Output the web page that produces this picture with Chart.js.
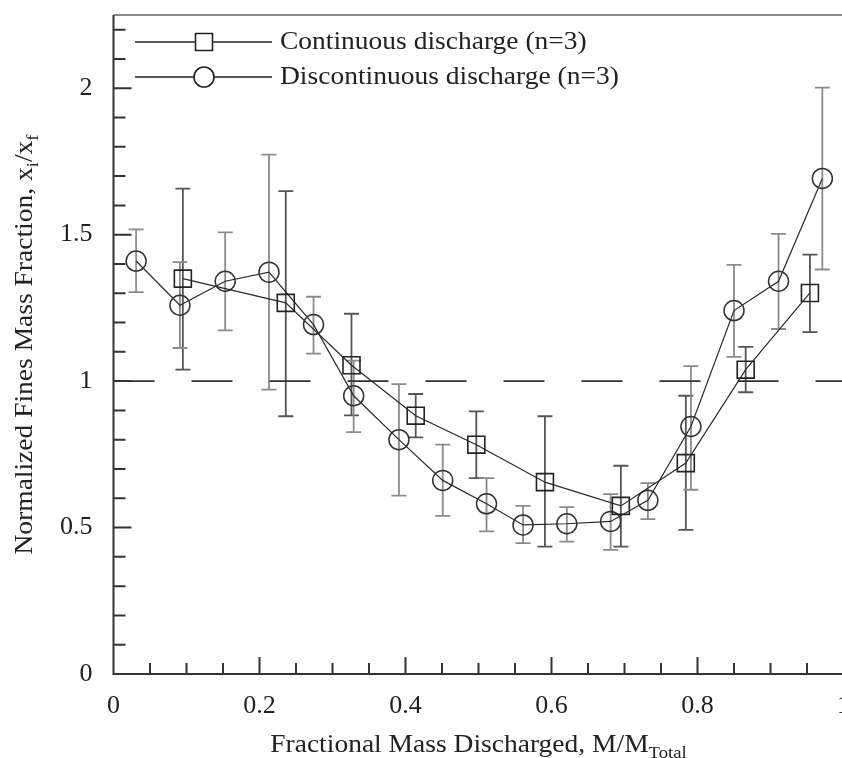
<!DOCTYPE html>
<html>
<head>
<meta charset="utf-8">
<script src="https://cdn.jsdelivr.net/npm/chart.js@4"></script>
<style>
  html, body { margin: 0; padding: 0; background: #fff; overflow: hidden; }
  #wrap { width: 870px; height: 758px; }
</style>
</head>
<body>
<div id="wrap"><canvas id="finesChart" width="870" height="758"></canvas></div>
<script>
// continuous discharge (squares)
const contX  = [0.095, 0.236, 0.326, 0.414, 0.497, 0.591, 0.695, 0.784, 0.866, 0.954];
const contY  = [1.35, 1.267, 1.054, 0.882, 0.783, 0.655, 0.574, 0.72, 1.039, 1.301];
const contLo = [1.039, 0.88, 0.883, 0.808, 0.669, 0.435, 0.435, 0.492, 0.962, 1.167];
const contHi = [1.657, 1.649, 1.23, 0.956, 0.897, 0.88, 0.711, 0.95, 1.117, 1.432];

// discontinuous discharge (circles)
const discX  = [0.031, 0.091, 0.153, 0.213, 0.274, 0.329, 0.391, 0.451, 0.511, 0.561, 0.621, 0.681, 0.732, 0.791, 0.85, 0.911, 0.971];
const discY  = [1.41, 1.259, 1.341, 1.372, 1.193, 0.95, 0.8, 0.661, 0.581, 0.509, 0.513, 0.521, 0.593, 0.845, 1.241, 1.341, 1.692];
const discLo = [1.304, 1.113, 1.173, 0.971, 1.094, 0.826, 0.609, 0.54, 0.487, 0.447, 0.452, 0.424, 0.529, 0.629, 1.083, 1.178, 1.381];
const discHi = [1.518, 1.406, 1.508, 1.773, 1.288, 1.07, 0.99, 0.783, 0.669, 0.574, 0.57, 0.614, 0.652, 1.051, 1.397, 1.503, 2.002];

// dashed reference line x_i/x_f = 1
const refX = [0, 1];
const refY = [1, 1];

// axis ticks
const xMajor = [0, 0.2, 0.4, 0.6, 0.8, 1];
const xMinor = [0.05, 0.1, 0.15, 0.25, 0.3, 0.35, 0.45, 0.5, 0.55, 0.65, 0.7, 0.75, 0.85, 0.9, 0.95];
const yMajor = [0, 0.5, 1, 1.5, 2];
const yMinor = [0.1, 0.2, 0.3, 0.4, 0.6, 0.7, 0.8, 0.9, 1.1, 1.2, 1.3, 1.4, 1.6, 1.7, 1.8, 1.9, 2.1, 2.2];

const SERIF = '"Liberation Serif", "DejaVu Serif", serif';
const INK = '#222';
const STRETCH = 1.1; // the source figure's lettering is a bit wider than Times

const toPoints = (xs, ys) => xs.map((x, i) => ({ x: x, y: ys[i] }));

// frame and inward tick marks
const framePlugin = {
  id: 'frame',
  afterDatasetsDraw(chart) {
    const { ctx, chartArea: a, scales: { x, y } } = chart;
    ctx.save();
    ctx.strokeStyle = '#666';
    ctx.lineWidth = 1.5;
    ctx.beginPath();
    ctx.moveTo(a.left, a.top);
    ctx.lineTo(a.right, a.top);
    ctx.lineTo(a.right, a.bottom);
    ctx.stroke();

    ctx.strokeStyle = '#333';
    ctx.lineWidth = 2;
    ctx.beginPath();
    ctx.moveTo(a.left, a.top);
    ctx.lineTo(a.left, a.bottom);
    ctx.lineTo(a.right, a.bottom);
    xMajor.forEach(v => { const p = x.getPixelForValue(v); ctx.moveTo(p, a.bottom); ctx.lineTo(p, a.bottom - 17); });
    xMinor.forEach(v => { const p = x.getPixelForValue(v); ctx.moveTo(p, a.bottom); ctx.lineTo(p, a.bottom - 11); });
    yMajor.forEach(v => { const p = y.getPixelForValue(v); ctx.moveTo(a.left, p); ctx.lineTo(a.left + 18, p); });
    yMinor.forEach(v => { const p = y.getPixelForValue(v); ctx.moveTo(a.left, p); ctx.lineTo(a.left + 12, p); });
    ctx.stroke();
    ctx.restore();
  }
};

// vertical error bars with caps
const errorBarPlugin = {
  id: 'errorBars',
  beforeDatasetsDraw(chart) {
    const { ctx, scales: { x, y } } = chart;
    chart.data.datasets.forEach(ds => {
      if (!ds.errLo) return;
      ctx.save();
      ctx.strokeStyle = ds.errColor;
      ctx.lineWidth = 1.8;
      ds.data.forEach((p, i) => {
        const px = x.getPixelForValue(p.x);
        const top = y.getPixelForValue(ds.errHi[i]);
        const bot = y.getPixelForValue(ds.errLo[i]);
        ctx.beginPath();
        ctx.moveTo(px, top); ctx.lineTo(px, bot);
        ctx.moveTo(px - 7.5, top); ctx.lineTo(px + 7.5, top);
        ctx.moveTo(px - 7.5, bot); ctx.lineTo(px + 7.5, bot);
        ctx.stroke();
      });
      ctx.restore();
    });
  }
};

// legend inside the plot, line through marker
const legendPlugin = {
  id: 'insideLegend',
  afterDraw(chart) {
    const { ctx, chartArea: a } = chart;
    chart.data.datasets.slice(0, 2).forEach((ds, i) => {
      const cy = a.top + 27 + i * 35;
      const mx = a.left + 90.5;
      ctx.save();
      ctx.strokeStyle = '#222';
      ctx.lineWidth = 1.3;
      ctx.beginPath();
      ctx.moveTo(a.left + 21.5, cy);
      ctx.lineTo(a.left + 158.5, cy);
      ctx.stroke();
      ctx.lineWidth = 1.6;
      ctx.fillStyle = '#fff';
      ctx.beginPath();
      if (ds.pointStyle === 'rect') {
        ctx.rect(mx - 8.5, cy - 8.5, 17, 17);
      } else {
        ctx.arc(mx, cy, 10, 0, Math.PI * 2);
      }
      ctx.fill();
      ctx.stroke();
      ctx.fillStyle = INK;
      ctx.font = '25px ' + SERIF;
      ctx.textBaseline = 'alphabetic';
      ctx.textAlign = 'left';
      ctx.translate(a.left + 166.5, cy + 7);
      ctx.scale(STRETCH, 1);
      ctx.fillText(ds.label, 0, 0);
      ctx.restore();
    });
  }
};

// axis titles with subscripts, centred on cx
function drawParts(ctx, parts, cx) {
  let total = 0;
  parts.forEach(p => { ctx.font = p[1] + 'px ' + SERIF; total += ctx.measureText(p[0]).width; });
  ctx.translate(cx - total * STRETCH / 2, 0);
  ctx.scale(STRETCH, 1);
  let px = 0;
  parts.forEach(p => {
    ctx.font = p[1] + 'px ' + SERIF;
    ctx.fillText(p[0], px, p[2]);
    px += ctx.measureText(p[0]).width;
  });
}

const titlePlugin = {
  id: 'axisTitles',
  afterDraw(chart) {
    const { ctx, chartArea: a } = chart;
    ctx.save();
    ctx.fillStyle = INK;
    ctx.textBaseline = 'alphabetic';
    ctx.textAlign = 'left';
    ctx.translate(0, 752);
    drawParts(ctx, [['Fractional Mass Discharged, M/M', 25, 0], ['Total', 17, 6]], (a.left + a.right) / 2);
    ctx.restore();

    ctx.save();
    ctx.fillStyle = INK;
    ctx.textBaseline = 'alphabetic';
    ctx.textAlign = 'left';
    ctx.translate(32, (a.top + a.bottom) / 2);
    ctx.rotate(-Math.PI / 2);
    drawParts(ctx, [['Normalized Fines Mass Fraction, x', 25, 0], ['i', 17, 6], ['/x', 25, 0], ['f', 17, 6]], 0);
    ctx.restore();
  }
};

const ctx = document.getElementById('finesChart').getContext('2d');

new Chart(ctx, {
  type: 'line',
  data: {
    datasets: [
      {
        label: 'Continuous discharge (n=3)',
        data: toPoints(contX, contY),
        errLo: contLo,
        errHi: contHi,
        errColor: '#555',
        borderColor: '#2a2a2a',
        borderWidth: 1.2,
        pointStyle: 'rect',
        pointRadius: 12,
        pointBorderWidth: 1.6,
        pointBorderColor: '#222',
        pointBackgroundColor: 'rgba(0,0,0,0)',
        tension: 0,
        fill: false
      },
      {
        label: 'Discontinuous discharge (n=3)',
        data: toPoints(discX, discY),
        errLo: discLo,
        errHi: discHi,
        errColor: '#8c8c8c',
        borderColor: '#2a2a2a',
        borderWidth: 1.2,
        pointStyle: 'circle',
        pointRadius: 10,
        pointBorderWidth: 1.5,
        pointBorderColor: '#333',
        pointBackgroundColor: 'rgba(0,0,0,0)',
        tension: 0,
        fill: false
      },
      {
        label: 'reference',
        data: toPoints(refX, refY),
        borderColor: '#333',
        borderWidth: 1.6,
        borderDash: [41, 37],
        pointRadius: 0,
        fill: false
      }
    ]
  },
  options: {
    responsive: false,
    animation: false,
    devicePixelRatio: 1,
    layout: { padding: { top: 15, right: 26.5, left: 0, bottom: 0 } },
    plugins: {
      legend: { display: false },
      tooltip: { enabled: false }
    },
    scales: {
      x: {
        type: 'linear',
        min: 0,
        max: 1,
        grid: { display: false, drawTicks: false },
        border: { display: false },
        ticks: {
          font: { family: SERIF, size: 26 },
          color: INK,
          padding: 17,
          maxRotation: 0,
          callback: (v) => String(v)
        },
        afterBuildTicks: (s) => { s.ticks = xMajor.map(v => ({ value: v })); },
        afterFit: (s) => { s.height = 84; s.paddingLeft = 0; s.paddingRight = 0; }
      },
      y: {
        type: 'linear',
        min: 0,
        max: 2.25,
        grid: { display: false, drawTicks: false },
        border: { display: false },
        ticks: {
          font: { family: SERIF, size: 26 },
          color: INK,
          padding: 21,
          callback: (v) => String(v)
        },
        afterBuildTicks: (s) => { s.ticks = yMajor.map(v => ({ value: v })); },
        afterFit: (s) => { s.width = 113.5; s.paddingTop = 0; s.paddingBottom = 0; }
      }
    }
  },
  plugins: [errorBarPlugin, framePlugin, legendPlugin, titlePlugin]
});
</script>
</body>
</html>
